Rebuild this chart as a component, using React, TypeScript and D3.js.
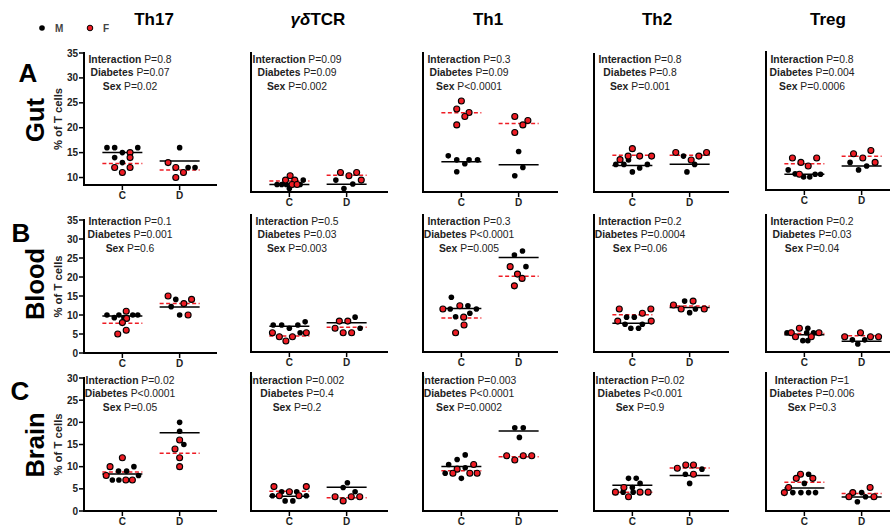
import React from "react";
import * as d3 from "d3";

const W = 890;
const H = 527;
const FONT = "'Liberation Sans', Arial, Helvetica, sans-serif";

const cellTypes = ["Th17", "γδTCR", "Th1", "Th2", "Treg"];
const tissues = ["Gut", "Blood", "Brain"];
const panelLetters = ["A", "B", "C"];
const groups = ["C", "D"];
const statNames = ["Interaction", "Diabetes", "Sex"];

// p values per cell type: [interaction, diabetes, sex]
const gutP = [
  ["P=0.8", "P=0.07", "P=0.02"],
  ["P=0.09", "P=0.09", "P=0.002"],
  ["P=0.3", "P=0.09", "P<0.0001"],
  ["P=0.8", "P=0.8", "P=0.001"],
  ["P=0.8", "P=0.004", "P=0.0006"],
];
const bloodP = [
  ["P=0.1", "P=0.001", "P=0.6"],
  ["P=0.5", "P=0.03", "P=0.003"],
  ["P=0.3", "P<0.0001", "P=0.005"],
  ["P=0.2", "P=0.0004", "P=0.06"],
  ["P=0.2", "P=0.03", "P=0.04"],
];
const brainP = [
  ["P=0.02", "P<0.0001", "P=0.05"],
  ["P=0.002", "P=0.4", "P=0.2"],
  ["P=0.003", "P<0.0001", "P=0.0002"],
  ["P=0.02", "P<0.001", "P=0.9"],
  ["P=1", "P=0.006", "P=0.3"],
];

// y tick labels (first column only)
const gutTicks = [10, 15, 20, 25, 30, 35];
const bloodTicks = [0, 5, 10, 15, 20, 25, 30, 35];
const brainTicks = [0, 5, 10, 15, 20, 25, 30];

type Pt = [string, string, number, number]; // group, sex, % value, column slot

const gutTh17: Pt[] = [
  ["C", "M", 16, -2], ["C", "M", 16, -1], ["C", "M", 16, 2], ["C", "M", 15, 0], ["C", "M", 14, -1], ["C", "M", 13, 0],
  ["C", "F", 15, 1], ["C", "F", 14, 1], ["C", "F", 12, -1], ["C", "F", 12, 1], ["C", "F", 11, 0],
  ["D", "M", 16, 0], ["D", "M", 12, 1.1], ["D", "M", 12, 2],
  ["D", "F", 13, -1.5], ["D", "F", 12, -0.5], ["D", "F", 11, 0.5], ["D", "F", 10, -0.5],
];
const gutGd: Pt[] = [
  ["C", "M", 3.0, 1.8], ["C", "M", 1.9, -1.6], ["C", "M", 1.9, -1], ["C", "M", 0.9, 0], ["C", "M", 1.9, -0.4], ["C", "M", 1.9, 1.4],
  ["C", "F", 4.1, 0.1], ["C", "F", 3.0, -0.5], ["C", "F", 3.0, 0.7], ["C", "F", 1.9, 0.35], ["C", "F", 1.9, 1],
  ["D", "M", 3.0, -1.4], ["D", "M", 2.0, 0.8], ["D", "M", 0.9, -0.35],
  ["D", "F", 4.9, -0.8], ["D", "F", 4.1, 0.3], ["D", "F", 4.9, 1.3], ["D", "F", 3.0, 1.9],
];
const gutTh1: Pt[] = [
  ["C", "M", 9.1, -1.7], ["C", "M", 8.1, -0.6], ["C", "M", 8.1, 1.0], ["C", "M", 8.1, 2.1], ["C", "M", 7.1, 0.45], ["C", "M", 5.1, -0.6],
  ["C", "F", 22.9, 0], ["C", "F", 20.9, -0.6], ["C", "F", 20.0, 1.0], ["C", "F", 19.0, 0.45], ["C", "F", 16.9, -0.6],
  ["D", "M", 10.2, 0], ["D", "M", 6.2, 0.55], ["D", "M", 4.1, -0.5],
  ["D", "F", 19.0, -0.5], ["D", "F", 18.0, 1.2], ["D", "F", 16.9, 0.55], ["D", "F", 15.0, -0.5],
];
const gutTh2: Pt[] = [
  ["C", "M", 7.0, -2.15], ["C", "M", 7.0, -1.1], ["C", "M", 7.0, 1.95], ["C", "M", 6.1, 0.95], ["C", "M", 5.1, 0], ["C", "M", 8.1, -0.5],
  ["C", "F", 11.0, 0], ["C", "F", 8.2, -1.6], ["C", "F", 9.1, -0.55], ["C", "F", 9.1, 0.95], ["C", "F", 9.1, 2.5],
  ["D", "M", 9.1, -0.8], ["D", "M", 7.0, 0.65], ["D", "M", 5.1, -0.35],
  ["D", "F", 10.0, -1.8], ["D", "F", 9.1, 1.2], ["D", "F", 10.0, 2.2], ["D", "F", 8.1, 0.2],
];
const gutTreg: Pt[] = [
  ["C", "M", 5.1, -2.1], ["C", "M", 4.1, -1.2], ["C", "M", 3.3, -0.1], ["C", "M", 3.3, 0.7], ["C", "M", 4.0, 1.4], ["C", "M", 4.0, 2.1],
  ["C", "F", 8.1, -1.55], ["C", "F", 7.0, -0.45], ["C", "F", 8.1, 1.6], ["C", "F", 6.1, 0.5], ["C", "F", 4.0, -0.65],
  ["D", "M", 7.0, -1.5], ["D", "M", 6.1, 0.65], ["D", "M", 5.1, -0.4],
  ["D", "F", 9.2, -1.05], ["D", "F", 8.1, 0.15], ["D", "F", 10.0, 1.2], ["D", "F", 7.0, 1.75],
];

const bloodTh17: Pt[] = [
  ["C", "M", 10, -2], ["C", "M", 9.3, -1.05], ["C", "M", 10, -0.45], ["C", "M", 10, 1.35], ["C", "M", 10, 2], ["C", "M", 9.3, 0.2],
  ["C", "F", 11, 0.5], ["C", "F", 9.1, 0.55], ["C", "F", 8, 0], ["C", "F", 6, 0.5], ["C", "F", 5, -0.6],
  ["D", "M", 14.1, -0.5], ["D", "M", 12.2, -1.1], ["D", "M", 10, 0],
  ["D", "F", 15, -1.5], ["D", "F", 13, 0.55], ["D", "F", 14.1, 1.55], ["D", "F", 10, 1.1],
];
const bloodGd: Pt[] = [
  ["C", "M", 6.9, -2.1], ["C", "M", 6.9, -1], ["C", "M", 6.05, 0], ["C", "M", 6.9, 1.1], ["C", "M", 7.7, 2.05], ["C", "M", 4.9, 1.4],
  ["C", "F", 4.9, -2.2], ["C", "F", 4.9, 2.2], ["C", "F", 3.9, -1.3], ["C", "F", 3.9, 0.4], ["C", "F", 2.8, -0.45],
  ["D", "M", 8.9, 1.1], ["D", "M", 6.05, 1.75],
  ["D", "F", 7.9, -0.95], ["D", "F", 7.9, 0.15], ["D", "F", 6.05, -1.5], ["D", "F", 4.9, -0.45], ["D", "F", 4.9, 0.65],
];
const bloodTh1: Pt[] = [
  ["C", "M", 14.0, -1.3], ["C", "M", 11.0, -1.45], ["C", "M", 11.8, 0.85], ["C", "M", 11.0, 1.95], ["C", "M", 9.9, 1.1], ["C", "M", 9.0, -0.75],
  ["C", "F", 11.0, -2.4], ["C", "F", 11.8, -0.2], ["C", "F", 8.9, 0.3], ["C", "F", 6.9, 0.35], ["C", "F", 4.9, -0.75],
  ["D", "M", 24.8, -0.55], ["D", "M", 25.8, 0.5], ["D", "M", 21.8, 0.95],
  ["D", "F", 21.8, -1.1], ["D", "F", 19.9, -0.15], ["D", "F", 18.8, 0.45], ["D", "F", 16.9, -0.55],
];
const bloodTh2: Pt[] = [
  ["C", "M", 8.9, -0.75], ["C", "M", 8.9, 0.25], ["C", "M", 7.1, -0.95], ["C", "M", 6.05, -0.2], ["C", "M", 6.05, 0.8], ["C", "M", 7.1, 1.3],
  ["C", "F", 11.0, -1.7], ["C", "F", 11.0, 2.4], ["C", "F", 9.9, 1.3], ["C", "F", 7.9, -1.9], ["C", "F", 7.9, 2.45],
  ["D", "M", 13.0, -0.65], ["D", "M", 11.0, 0.75], ["D", "M", 10.05, 0],
  ["D", "F", 13.0, 0.45], ["D", "F", 12.0, -2.1], ["D", "F", 11.0, -1.1], ["D", "F", 11.0, 1.9],
];
const bloodTreg: Pt[] = [
  ["C", "M", 6.05, 0.45], ["C", "M", 4.9, -2.25], ["C", "M", 4.9, 1.2], ["C", "M", 2.9, -0.2], ["C", "M", 2.9, 0.45], ["C", "M", 4.9, 0.3],
  ["C", "F", 6.05, -0.65], ["C", "F", 4.9, -1.7], ["C", "F", 4.9, 1.9], ["C", "F", 3.9, -1.15], ["C", "F", 3.9, 0.9],
  ["D", "M", 3.1, -1.2], ["D", "M", 3.1, 0.4], ["D", "M", 2.05, -0.5],
  ["D", "F", 4.9, -0.15], ["D", "F", 3.9, -2.2], ["D", "F", 3.9, 1.15], ["D", "F", 3.9, 2.2],
];

const brainTh17: Pt[] = [
  ["C", "M", 10, 1.5], ["C", "M", 9, -0.5], ["C", "M", 9, 0.55], ["C", "M", 8, 2.1], ["C", "M", 7, -1.3], ["C", "M", 7, -0.45],
  ["C", "F", 12, 0], ["C", "F", 10, -1.6], ["C", "F", 8, -2.1], ["C", "F", 7, 0.45], ["C", "F", 7, 1.3],
  ["D", "M", 20, 0], ["D", "M", 18, 0], ["D", "M", 15, 0.55],
  ["D", "F", 16, 0], ["D", "F", 14, -0.6], ["D", "F", 12, 0], ["D", "F", 10, 0],
];
const brainGd: Pt[] = [
  ["C", "M", 4.2, -1], ["C", "M", 4.2, 0.95], ["C", "M", 3.3, -2.2], ["C", "M", 3.3, 2.2], ["C", "M", 2.2, -0.55], ["C", "M", 2.2, 0.45],
  ["C", "F", 5.3, -2], ["C", "F", 5.3, 2.2], ["C", "F", 3.3, -1.3], ["C", "F", 3.3, 1.25], ["C", "F", 4.2, 0],
  ["D", "M", 6.15, 0.1], ["D", "M", 5.1, -0.45], ["D", "M", 4.2, 1.1],
  ["D", "F", 3.1, -1.5], ["D", "F", 3.1, 0.6], ["D", "F", 3.1, 1.7], ["D", "F", 2.2, -0.45],
];
const brainTh1: Pt[] = [
  ["C", "M", 12.2, 0.5], ["C", "M", 11.2, -0.55], ["C", "M", 10.1, -1.65], ["C", "M", 9.4, 0.5], ["C", "M", 8.2, -2.1], ["C", "M", 7.1, 0],
  ["C", "F", 10.1, 1.6], ["C", "F", 9.1, -0.55], ["C", "F", 8.2, -1.1], ["C", "F", 8.2, 1.1], ["C", "F", 8.2, 2.05],
  ["D", "M", 18.1, -0.5], ["D", "M", 18.1, 0.6], ["D", "M", 16, 0.1],
  ["D", "F", 12, -1.55], ["D", "F", 12, 0.6], ["D", "F", 12, 1.7], ["D", "F", 11.1, -0.5],
];
const brainTh2: Pt[] = [
  ["C", "M", 7.1, -0.5], ["C", "M", 7.1, 0.5], ["C", "M", 6.0, 1.0], ["C", "M", 5.1, 0], ["C", "M", 4.1, -1.2], ["C", "M", 4.1, 0.1],
  ["C", "F", 5.1, -1.1], ["C", "F", 4.1, -2.2], ["C", "F", 4.1, 1.0], ["C", "F", 4.1, 2.05], ["C", "F", 3.1, -0.5],
  ["D", "M", 9.1, 1.6], ["D", "M", 8.0, -0.55], ["D", "M", 6.0, 0],
  ["D", "F", 9.3, -1.6], ["D", "F", 10, -0.5], ["D", "F", 10, 0.5], ["D", "F", 8.0, 0.5],
];
const brainTreg: Pt[] = [
  ["C", "M", 8.0, 0.55], ["C", "M", 6.0, 0], ["C", "M", 4.0, -1.5], ["C", "M", 4.0, -0.45], ["C", "M", 4.0, 0.55], ["C", "M", 4.0, 1.45],
  ["C", "F", 8.0, -0.5], ["C", "F", 7.1, -1.05], ["C", "F", 7.1, 1.1], ["C", "F", 5.1, -2.05], ["C", "F", 4.0, -2.6],
  ["D", "M", 4.0, 0], ["D", "M", 3.1, 0.5], ["D", "M", 2.0, -0.55],
  ["D", "F", 5.1, 1.1], ["D", "F", 4.0, -1.15], ["D", "F", 3.1, -1.65], ["D", "F", 3.1, 1.6],
];

const rowData = [
  [gutTh17, gutGd, gutTh1, gutTh2, gutTreg],
  [bloodTh17, bloodGd, bloodTh1, bloodTh2, bloodTreg],
  [brainTh17, brainGd, brainTh1, brainTh2, brainTreg],
];
const rowP = [gutP, bloodP, brainP];
const rowTicks = [gutTicks, bloodTicks, brainTicks];

// layout
const colX = [84, 251, 423, 594, 766];
const axisEnd = [217, 388, 558, 729, 890];
const titleX = [154, 318, 488, 657, 828];
const axisTop = [[53, 53, 53, 54, 52], [220, 215, 215, 215, 215], [378, 373, 373, 373, 373]];
const axisBottom = [[185, 192, 192, 192, 190], [353, 352, 352, 352, 352], [511, 511, 511, 511, 511]];
const statY = [63, 225, 384];
const letterPos = [[28, 82], [21, 242], [20, 400]];
const tissueY = [120, 284, 445];

const RED = "#ee1c24";

const Panel = ({ r, c }: { r: number; c: number }) => {
  const pts = rowData[r][c];
  const x0 = colX[c];
  const top = axisTop[r][c];
  const bottom = axisBottom[r][c];
  const ticks = rowTicks[r];
  const yMin = c === 0 ? (r === 0 ? 8.5 : 0) : 0;
  const yMax = r === 2 ? 30 : 35;
  const y = d3.scaleLinear().domain([yMin, yMax]).range([bottom, top]);
  const x = d3.scalePoint<string>().domain(groups).range([x0, x0 + 134]).padding(0.67);
  const slot = d3.scaleLinear().domain([0, 1]).range([0, 7.7]);
  const p = rowP[r][c];

  const means = groups.flatMap((g) =>
    ["M", "F"].map((s) => ({
      g,
      s,
      m: d3.mean(pts.filter((d) => d[0] === g && d[1] === s), (d) => d[2]) as number,
    }))
  );

  const cx = x0 + 46;
  return (
    <g>
      {/* stats */}
      {statNames.map((n, i) => (
        <text
          key={n}
          transform={`translate(${cx},${statY[r] + i * 13.3}) scale(0.9,1)`}
          textAnchor="middle"
          fontSize={11.5}
          fill="#222"
        >
          <tspan fontWeight="bold">{n}</tspan> {p[i]}
        </text>
      ))}
      {/* mean lines */}
      {means.map((m) => (
        <line
          key={m.g + m.s}
          x1={(x(m.g) as number) - 20}
          x2={(x(m.g) as number) + 20}
          y1={y(m.m)}
          y2={y(m.m)}
          stroke={m.s === "M" ? "#000" : RED}
          strokeWidth={1.5}
          strokeDasharray={m.s === "M" ? undefined : "4,2.5"}
        />
      ))}
      {/* points */}
      {pts.filter((d) => d[1] === "M").map((d, i) => (
        <circle key={"m" + i} cx={(x(d[0]) as number) + slot(d[3])} cy={y(d[2])} r={2.8} fill="#000" />
      ))}
      {pts.filter((d) => d[1] === "F").map((d, i) => (
        <circle key={"f" + i} cx={(x(d[0]) as number) + slot(d[3])} cy={y(d[2])} r={3} fill={RED} stroke="#000" strokeWidth={1.1} />
      ))}
      {/* axes */}
      <line x1={x0} x2={x0} y1={top - 1} y2={bottom + 1} stroke="#000" strokeWidth={2} />
      <line x1={x0 - 1} x2={axisEnd[c]} y1={bottom} y2={bottom} stroke="#000" strokeWidth={2} />
      {groups.map((g) => (
        <g key={g}>
          <line x1={x(g)} x2={x(g)} y1={bottom} y2={bottom + 5} stroke="#000" strokeWidth={1.5} />
          <text x={x(g)} y={bottom + 14} textAnchor="middle" fontSize={10} fontWeight="bold" fill="#222">
            {g}
          </text>
        </g>
      ))}
      {c === 0 &&
        ticks.map((t) => (
          <g key={t}>
            <line x1={x0 - 5} x2={x0} y1={y(t)} y2={y(t)} stroke="#000" strokeWidth={1.5} />
            <text x={x0 - 6} y={y(t)} dy="0.35em" textAnchor="end" fontSize={10} fontWeight="bold" fill="#222">
              {t}
            </text>
          </g>
        ))}
      {c === 0 && (
        <text
          transform={`translate(62,${(top + bottom) / 2}) rotate(-90)`}
          textAnchor="middle"
          fontSize={11.3}
          fontWeight="bold"
          fill="#222"
        >
          % of T cells
        </text>
      )}
    </g>
  );
};

export default function App() {
  return (
    <svg width={W} height={H} style={{ position: "absolute", left: 0, top: 0, background: "#fff" }} fontFamily={FONT}>
      <rect width={W} height={H} fill="#fff" />
      {/* legend */}
      <circle cx={42} cy={28} r={2.8} fill="#000" />
      <text x={55} y={32} fontSize={10} fontWeight="bold" fill="#444">M</text>
      <circle cx={90} cy={28} r={2.8} fill={RED} stroke="#000" strokeWidth={1} />
      <text x={103} y={32} fontSize={10} fontWeight="bold" fill="#444">F</text>
      {/* column titles */}
      {cellTypes.map((t, i) => (
        <text key={t} x={titleX[i]} y={25} textAnchor="middle" fontSize={17} fontWeight="bold" fill="#000">
          {t === "γδTCR" ? (
            <>
              <tspan fontStyle="italic">γδ</tspan>TCR
            </>
          ) : (
            t
          )}
        </text>
      ))}
      {/* row labels */}
      {tissues.map((t, r) => (
        <g key={t}>
          <text x={letterPos[r][0]} y={letterPos[r][1]} textAnchor="middle" fontSize={26} fontWeight="bold" fill="#000">
            {panelLetters[r]}
          </text>
          <text transform={`translate(44,${tissueY[r]}) rotate(-90)`} textAnchor="middle" fontSize={25.5} fontWeight="bold" fill="#000">
            {t}
          </text>
        </g>
      ))}
      {rowData.map((row, r) => row.map((_, c) => <Panel key={r + "-" + c} r={r} c={c} />))}
    </svg>
  );
}
